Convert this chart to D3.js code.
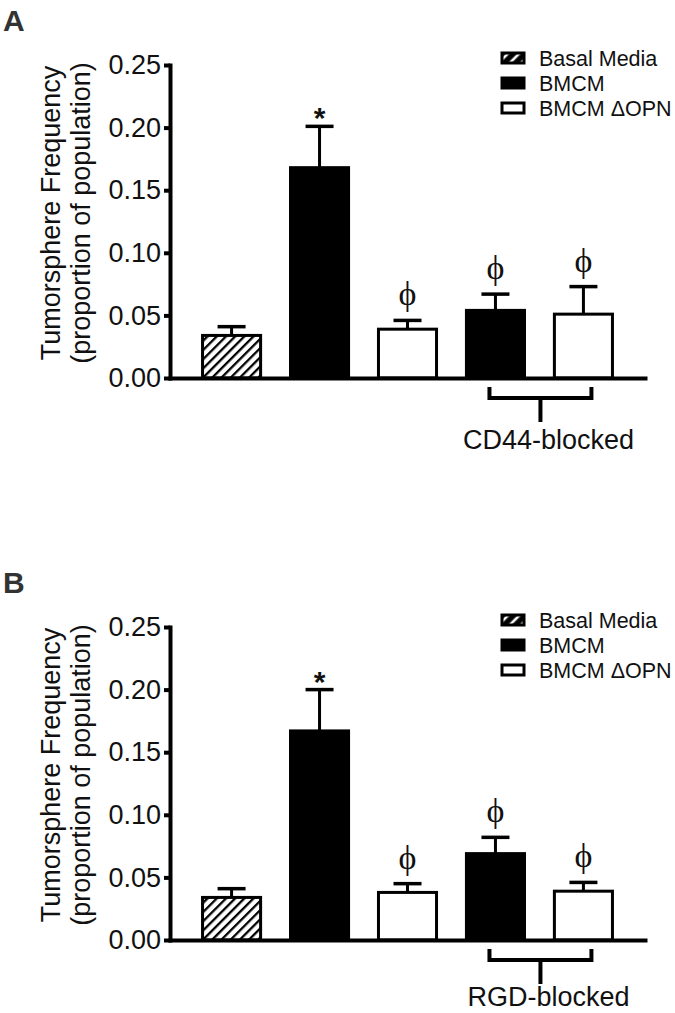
<!DOCTYPE html>
<html>
<head>
<meta charset="utf-8">
<script src="https://cdn.jsdelivr.net/npm/d3@7"></script>
<style>
body { margin: 0; background: #fff; }
svg { display: block; font-family: "Liberation Sans", Arial, sans-serif; }
</style>
</head>
<body>
<div id="container"></div>
<script>
//bar categories, in drawing order
var categories = ["Basal Media", "BMCM", "BMCM \u0394OPN", "BMCM blocked", "BMCM \u0394OPN blocked"];
var barStyles = ["hatch", "black", "white", "black", "white"];

//panel A: CD44-blocked
var meansA = [0.034, 0.168, 0.039, 0.054, 0.051];
var errorsA = [0.007, 0.033, 0.007, 0.013, 0.022];
var marksA = ["", "*", "\u03D5", "\u03D5", "\u03D5"];

//panel B: RGD-blocked
var meansB = [0.034, 0.167, 0.038, 0.069, 0.039];
var errorsB = [0.007, 0.033, 0.007, 0.013, 0.007];
var marksB = ["", "*", "\u03D5", "\u03D5", "\u03D5"];

var yTicks = [0, 0.05, 0.10, 0.15, 0.20, 0.25];
var legendItems = ["Basal Media", "BMCM", "BMCM \u0394OPN"];
var legendStyles = ["hatch", "black", "white"];

var width = 675, height = 1013;

var svg = d3.select("#container")
    .append("svg")
    .attr("width", width)
    .attr("height", height);

//hatch patterns
var defs = svg.append("defs");
var hatch = defs.append("pattern")
    .attr("id", "hatch")
    .attr("patternUnits", "userSpaceOnUse")
    .attr("width", 6.5)
    .attr("height", 6.5)
    .attr("patternTransform", "rotate(45)");
hatch.append("rect").attr("width", 6.5).attr("height", 6.5).attr("fill", "#fff");
hatch.append("line").attr("x1", 1).attr("y1", 0).attr("x2", 1).attr("y2", 6.5)
    .attr("stroke", "#000").attr("stroke-width", 2.6);

var hatchLeg = defs.append("pattern")
    .attr("id", "hatchLeg")
    .attr("patternUnits", "userSpaceOnUse")
    .attr("width", 8)
    .attr("height", 8)
    .attr("patternTransform", "rotate(45)");
hatchLeg.append("rect").attr("width", 8).attr("height", 8).attr("fill", "#000");
hatchLeg.append("line").attr("x1", 4).attr("y1", 0).attr("x2", 4).attr("y2", 8)
    .attr("stroke", "#fff").attr("stroke-width", 2.6);

function fillFor(s) {
    if (s === "hatch") return "url(#hatch)";
    return s === "black" ? "#000" : "#fff";
}

drawPanel(0, "A", meansA, errorsA, marksA, "CD44-blocked", 71);
drawPanel(562, "B", meansB, errorsB, marksB, "RGD-blocked", 66);

function drawPanel(top, letter, means, errors, marks, blockLabel, labelOffset) {
    var g = svg.append("g").attr("transform", "translate(0," + top + ")");

    var x = d3.scaleBand()
        .domain(categories)
        .range([170, 645])
        .paddingInner(0.34)
        .paddingOuter(0.37);

    var y = d3.scaleLinear()
        .domain([0, 0.25])
        .range([378, 65]);

    var data = categories.map(function (c, i) {
        return {name: c, mean: means[i], err: errors[i], mark: marks[i], style: barStyles[i]};
    });

    //panel letter
    g.append("text")
        .attr("x", 3)
        .attr("y", 31)
        .attr("font-size", 30)
        .attr("font-weight", "bold")
        .attr("fill", "#333")
        .text(letter);

    //y axis title
    var title = g.append("text")
        .attr("transform", "translate(0,213) rotate(-90)")
        .attr("text-anchor", "middle")
        .attr("font-size", 27)
        .attr("fill", "#111");
    title.append("tspan").attr("x", 0).attr("y", 60).text("Tumorsphere Frequency");
    title.append("tspan").attr("x", 0).attr("y", 90).text("(proportion of population)");

    //bars
    g.selectAll(".bar")
        .data(data)
        .enter()
        .append("rect")
        .attr("class", "bar")
        .attr("x", function (d) { return x(d.name); })
        .attr("width", x.bandwidth())
        .attr("y", function (d) { return y(d.mean); })
        .attr("height", function (d) { return y(0) - y(d.mean); })
        .attr("fill", function (d) { return fillFor(d.style); })
        .attr("stroke", "#000")
        .attr("stroke-width", 3);

    //error bars (upper only)
    var eb = g.selectAll(".err")
        .data(data)
        .enter()
        .append("g")
        .attr("class", "err");
    eb.append("line")
        .attr("x1", function (d) { return x(d.name) + x.bandwidth() / 2; })
        .attr("x2", function (d) { return x(d.name) + x.bandwidth() / 2; })
        .attr("y1", function (d) { return y(d.mean); })
        .attr("y2", function (d) { return y(d.mean + d.err); })
        .attr("stroke", "#000")
        .attr("stroke-width", 3);
    eb.append("line")
        .attr("x1", function (d) { return x(d.name) + x.bandwidth() / 2 - 14; })
        .attr("x2", function (d) { return x(d.name) + x.bandwidth() / 2 + 14; })
        .attr("y1", function (d) { return y(d.mean + d.err); })
        .attr("y2", function (d) { return y(d.mean + d.err); })
        .attr("stroke", "#000")
        .attr("stroke-width", 3.5);

    //significance marks
    g.selectAll(".mark")
        .data(data.filter(function (d) { return d.mark !== ""; }))
        .enter()
        .append("text")
        .attr("class", "mark")
        .attr("x", function (d) { return x(d.name) + x.bandwidth() / 2; })
        .attr("y", function (d) {
            return d.mark === "*" ? y(d.mean + d.err) + 2 : y(d.mean + d.err) - 15;
        })
        .attr("text-anchor", "middle")
        .attr("font-family", function (d) {
            return d.mark === "*" ? "Liberation Sans, Arial, sans-serif" : "Liberation Serif, DejaVu Serif, serif";
        })
        .attr("font-weight", function (d) { return d.mark === "*" ? "bold" : "normal"; })
        .attr("font-size", function (d) { return d.mark === "*" ? 30 : 34; })
        .attr("fill", "#111")
        .text(function (d) { return d.mark; });

    //y axis
    var yAxis = g.append("g")
        .attr("transform", "translate(170,0)")
        .call(d3.axisLeft(y)
            .tickValues(yTicks)
            .tickFormat(d3.format(".2f"))
            .tickSize(6)
            .tickSizeOuter(0)
            .tickPadding(3));
    yAxis.select(".domain").attr("stroke-width", 4).attr("stroke-linecap", "square");
    yAxis.selectAll(".tick line").attr("stroke-width", 4);
    yAxis.selectAll(".tick text")
        .attr("font-size", 27)
        .attr("font-family", "Liberation Sans, Arial, sans-serif")
        .attr("fill", "#111");

    //x axis (no ticks)
    var xAxis = g.append("g")
        .attr("transform", "translate(0," + y(0) + ")")
        .call(d3.axisBottom(x).tickSize(0).tickSizeOuter(0).tickFormat(""));
    xAxis.select(".domain").attr("stroke-width", 4).attr("stroke-linecap", "square");

    //bracket under the blocked bars
    var c4 = x(categories[3]) + x.bandwidth() / 2,
        c5 = x(categories[4]) + x.bandwidth() / 2;
    var bl = c4 - 6, br = c5 + 8, bm = (bl + br) / 2;
    g.append("path")
        .attr("d", "M" + bl + "," + (y(0) + 9) + "V" + (y(0) + 20) + "H" + br + "V" + (y(0) + 9))
        .attr("fill", "none")
        .attr("stroke", "#000")
        .attr("stroke-width", 4);
    g.append("line")
        .attr("x1", bm).attr("x2", bm)
        .attr("y1", y(0) + 20).attr("y2", y(0) + 44)
        .attr("stroke", "#000")
        .attr("stroke-width", 4);
    g.append("text")
        .attr("x", bm + 8)
        .attr("y", y(0) + labelOffset)
        .attr("text-anchor", "middle")
        .attr("font-size", 27)
        .attr("fill", "#111")
        .text(blockLabel);

    //legend
    var leg = g.selectAll(".leg")
        .data(legendItems)
        .enter()
        .append("g")
        .attr("class", "leg")
        .attr("transform", function (d, i) { return "translate(0," + (58 + i * 25) + ")"; });
    leg.append("rect")
        .attr("x", 502)
        .attr("y", -5)
        .attr("width", 22)
        .attr("height", 10)
        .attr("fill", function (d, i) {
            return legendStyles[i] === "hatch" ? "url(#hatchLeg)" : fillFor(legendStyles[i]);
        })
        .attr("stroke", "#000")
        .attr("stroke-width", 3);
    leg.append("text")
        .attr("x", 539)
        .attr("y", 7.5)
        .attr("font-size", 21.5)
        .attr("fill", "#111")
        .text(function (d) { return d; });
}
</script>
</body>
</html>
